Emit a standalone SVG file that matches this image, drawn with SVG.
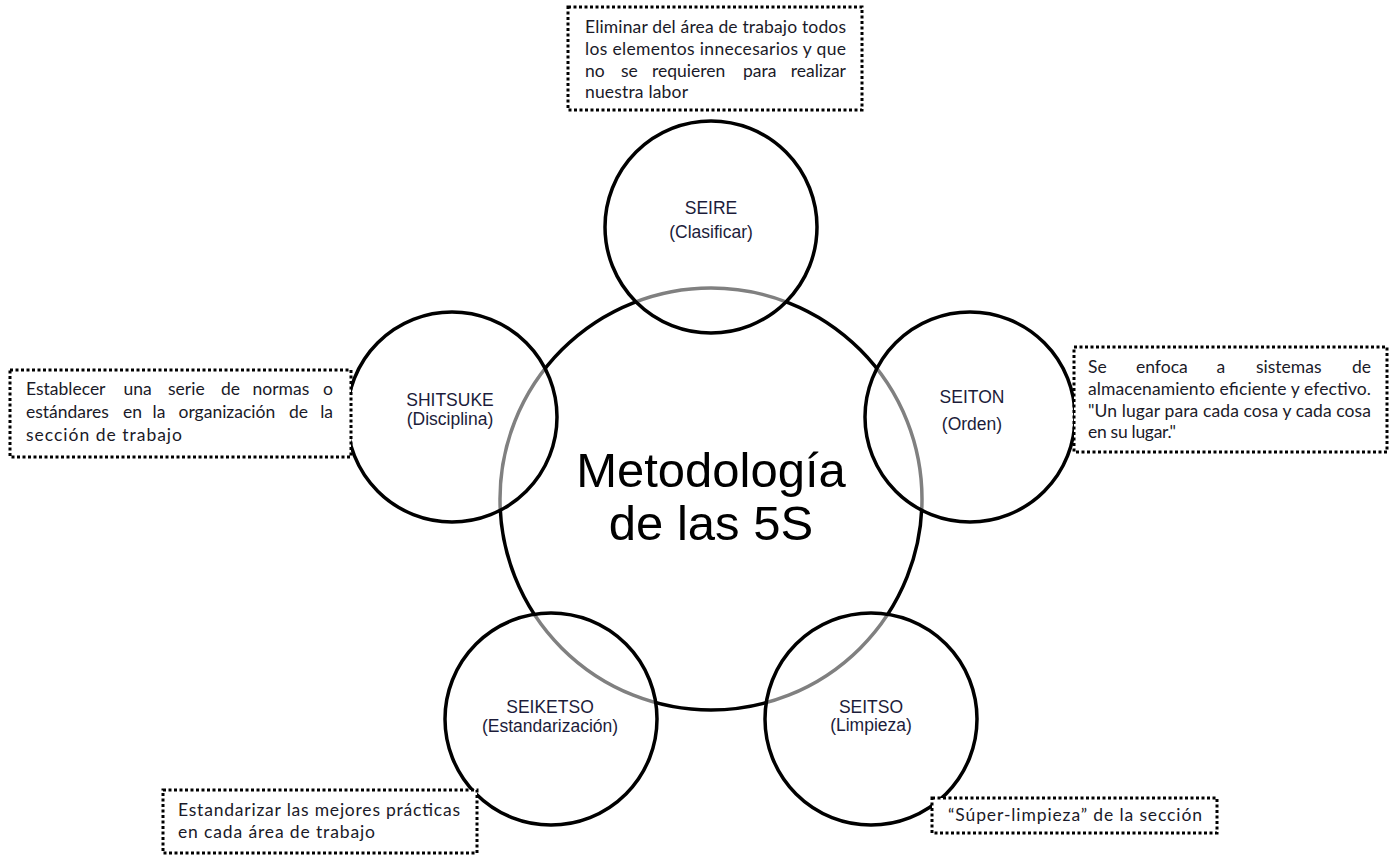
<svg xmlns="http://www.w3.org/2000/svg" width="1395" height="856" viewBox="0 0 1395 856">
<style>
.big{fill:none;stroke:#000;stroke-width:3.5}
.s{fill:#fff;fill-opacity:0.5;stroke:#000;stroke-width:3.5}
.ct{font-family:"Liberation Sans",Arial,sans-serif;font-size:17.5px;fill:#1c1c3a;text-anchor:middle}
.mt{font-family:"Liberation Sans",Arial,sans-serif;font-size:49px;fill:#000;text-anchor:middle}
.box{fill:#fff;stroke:#000;stroke-width:3;stroke-dasharray:3 2.5}
.bt{font-family:Lato,"Open Sans",sans-serif;font-size:17.5px;fill:#1a1a28}
.e{text-anchor:end}
</style>
<rect width="1395" height="856" fill="#fff"/>
<g id="center">
<circle class="big" cx="711" cy="499" r="211"/>
</g>
<g id="seire">
<circle class="s" cx="711" cy="227" r="106"/>
<text class="ct" x="711" y="214">SEIRE</text>
<text class="ct" x="711" y="238">(Clasificar)</text>
</g>
<g id="seiton">
<circle class="s" cx="970" cy="417" r="105"/>
<text class="ct" x="972" y="403">SEITON</text>
<text class="ct" x="972" y="430">(Orden)</text>
</g>
<g id="seitso">
<circle class="s" cx="871" cy="719" r="106"/>
<text class="ct" x="871" y="713">SEITSO</text>
<text class="ct" x="871" y="731">(Limpieza)</text>
</g>
<g id="seiketso">
<circle class="s" cx="551" cy="719" r="106"/>
<text class="ct" x="550" y="713">SEIKETSO</text>
<text class="ct" x="550" y="732">(Estandarización)</text>
</g>
<g id="shitsuke">
<circle class="s" cx="452" cy="417" r="105"/>
<text class="ct" x="450" y="406">SHITSUKE</text>
<text class="ct" x="450" y="425">(Disciplina)</text>
</g>
<g id="center-label">
<text class="mt" x="711" y="487">Metodología</text>
<text class="mt" x="711" y="540">de las 5S</text>
</g>
<g id="connectors"></g>
<g id="box-seire">
<rect class="box" x="568" y="7" width="294" height="103"/>
<text class="bt" x="585" y="33" textLength="261" lengthAdjust="spacing">Eliminar del área de trabajo todos</text>
<text class="bt" x="585" y="55" textLength="261" lengthAdjust="spacing">los elementos innecesarios y que</text>
<text class="bt" y="77" x="585">no</text>
<text class="bt" y="77" x="621">se</text>
<text class="bt" y="77" x="652">requieren</text>
<text class="bt" y="77" x="743">para</text>
<text class="bt e" y="77" x="846">realizar</text>
<text class="bt" x="585" y="98" textLength="103" lengthAdjust="spacing">nuestra labor</text>
</g>
<g id="box-shitsuke">
<rect class="box" x="10" y="370" width="341" height="87"/>
<text class="bt" y="395" x="26">Establecer</text>
<text class="bt" y="395" x="123.5">una</text>
<text class="bt" y="395" x="168">serie</text>
<text class="bt" y="395" x="221">de</text>
<text class="bt" y="395" x="252.5">normas</text>
<text class="bt e" y="395" x="333">o</text>
<text class="bt" y="418" x="26">estándares</text>
<text class="bt" y="418" x="123">en</text>
<text class="bt" y="418" x="152.5">la</text>
<text class="bt" y="418" x="178.5">organización</text>
<text class="bt" y="418" x="289">de</text>
<text class="bt e" y="418" x="333">la</text>
<text class="bt" x="26" y="441" textLength="156" lengthAdjust="spacing">sección de trabajo</text>
</g>
<g id="box-seiton">
<rect class="box" x="1074" y="347" width="313" height="105"/>
<text class="bt" y="373" x="1088">Se</text>
<text class="bt" y="373" x="1136">enfoca</text>
<text class="bt" y="373" x="1216.5">a</text>
<text class="bt" y="373" x="1256">sistemas</text>
<text class="bt e" y="373" x="1371">de</text>
<text class="bt" x="1088" y="395" textLength="283" lengthAdjust="spacing">almacenamiento eficiente y efectivo.</text>
<text class="bt" x="1088" y="417" textLength="283" lengthAdjust="spacing">"Un lugar para cada cosa y cada cosa</text>
<text class="bt" x="1088" y="438" textLength="88" lengthAdjust="spacing">en su lugar."</text>
</g>
<g id="box-seiketso">
<rect class="box" x="163" y="790" width="314" height="63"/>
<text class="bt" x="178" y="816" textLength="282" lengthAdjust="spacing">Estandarizar las mejores prácticas</text>
<text class="bt" x="178" y="838" textLength="197" lengthAdjust="spacing">en cada área de trabajo</text>
</g>
<g id="box-seitso">
<rect class="box" x="932" y="798" width="285" height="35"/>
<text class="bt" x="948" y="821" textLength="254" lengthAdjust="spacing">“Súper-limpieza” de la sección</text>
</g>
</svg>
